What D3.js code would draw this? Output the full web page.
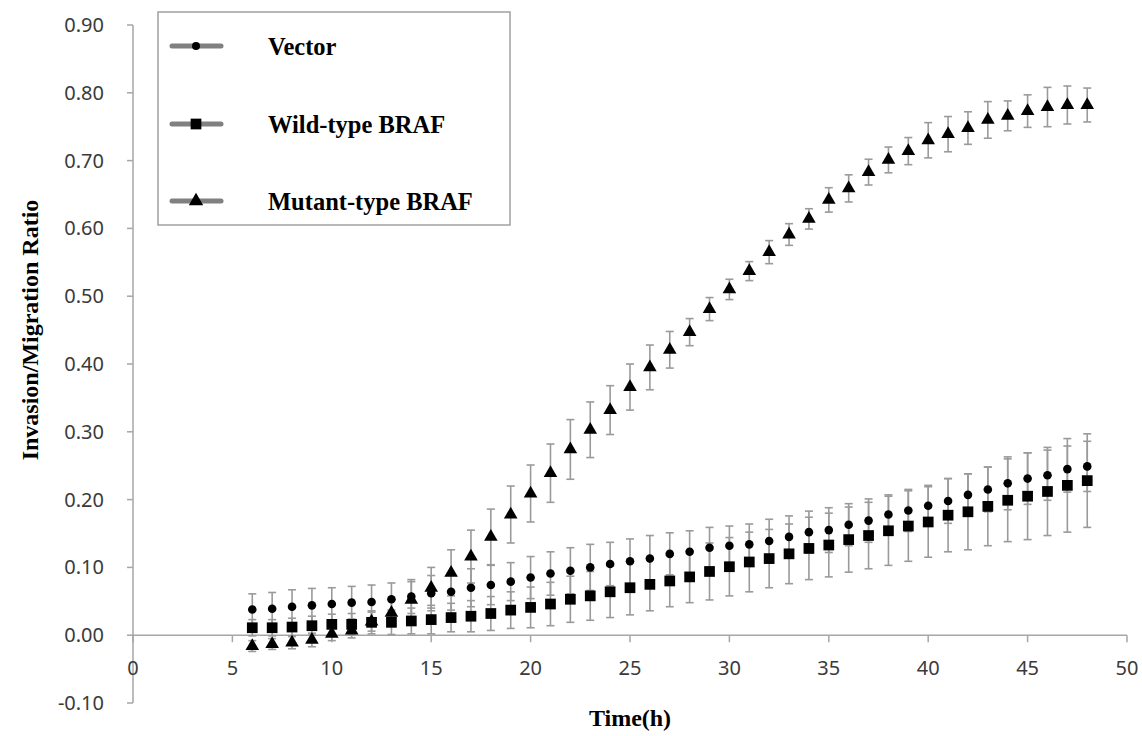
<!DOCTYPE html>
<html>
<head>
<meta charset="utf-8">
<script src="https://cdn.jsdelivr.net/npm/d3@7"></script>
<style>
  body { margin: 0; background: #fff; }
  .axis-line { stroke: #a6a6a6; stroke-width: 1.5; fill: none; }
  .tick-label { font-family: "Noto Sans", "Open Sans", sans-serif; font-size: 20px; fill: #3a3a3a; }
  .title { font-family: "Liberation Serif", "Times New Roman", serif; font-weight: bold; font-size: 24px; fill: #000; }
  .legend-text { font-family: "Liberation Serif", "Times New Roman", serif; font-weight: bold; font-size: 24.5px; fill: #000; }
</style>
</head>
<body>
<div class="chart"></div>
<script>
// data
const hours = [6,7,8,9,10,11,12,13,14,15,16,17,18,19,20,21,22,23,24,25,26,27,
  28,29,30,31,32,33,34,35,36,37,38,39,40,41,42,43,44,45,46,47,48];

const vector = [0.038,0.039,0.042,0.044,0.046,0.048,0.049,0.053,0.057,0.062,0.064,0.070,
  0.074,0.079,0.085,0.091,0.095,0.100,0.105,0.109,0.113,0.120,0.123,0.129,0.132,0.134,
  0.139,0.145,0.152,0.155,0.163,0.169,0.178,0.184,0.191,0.198,0.207,0.215,0.224,0.231,
  0.236,0.245,0.249];
const vectorErr = [0.023,0.024,0.025,0.025,0.024,0.024,0.025,0.024,0.025,0.026,0.027,0.028,
  0.029,0.028,0.031,0.032,0.034,0.034,0.032,0.033,0.034,0.031,0.031,0.030,0.029,0.030,
  0.032,0.031,0.031,0.033,0.031,0.032,0.029,0.031,0.030,0.033,0.031,0.033,0.039,0.038,
  0.037,0.034,0.037];

const wildType = [0.011,0.011,0.012,0.014,0.016,0.016,0.019,0.019,0.021,0.023,0.026,0.028,
  0.032,0.037,0.041,0.046,0.053,0.058,0.064,0.070,0.075,0.080,0.086,0.094,0.101,0.108,
  0.113,0.120,0.128,0.133,0.141,0.147,0.154,0.161,0.167,0.177,0.182,0.190,0.199,0.205,
  0.212,0.221,0.228];
const wildTypeErr = [0.012,0.012,0.013,0.014,0.015,0.016,0.017,0.018,0.019,0.021,0.021,0.023,
  0.025,0.027,0.030,0.032,0.034,0.036,0.038,0.040,0.039,0.038,0.038,0.042,0.043,0.044,
  0.043,0.044,0.046,0.047,0.048,0.049,0.051,0.052,0.052,0.054,0.056,0.058,0.061,0.064,
  0.065,0.069,0.069];

const mutant = [-0.016,-0.013,-0.011,-0.007,0.002,0.007,0.020,0.033,0.052,0.070,0.092,0.116,
  0.145,0.178,0.209,0.239,0.274,0.303,0.332,0.366,0.395,0.421,0.447,0.481,0.510,0.537,
  0.565,0.591,0.614,0.642,0.659,0.683,0.701,0.714,0.730,0.739,0.748,0.760,0.766,0.773,
  0.779,0.782,0.782];
const mutantErr = [0.008,0.008,0.009,0.010,0.010,0.011,0.014,0.020,0.027,0.030,0.034,0.039,
  0.041,0.042,0.042,0.043,0.044,0.041,0.036,0.034,0.033,0.027,0.020,0.017,0.015,0.014,
  0.017,0.016,0.015,0.018,0.020,0.019,0.019,0.020,0.026,0.026,0.024,0.027,0.022,0.024,
  0.029,0.028,0.025];

const seriesNames = ["Vector", "Wild-type BRAF", "Mutant-type BRAF"];
const xTicks = [0,5,10,15,20,25,30,35,40,45,50];
const yTicks = [-0.1,0,0.1,0.2,0.3,0.4,0.5,0.6,0.7,0.8,0.9];

const series = [
  { name: seriesNames[0], values: vector, err: vectorErr, shape: d3.symbolCircle, size: 58, legendSize: 50 },
  { name: seriesNames[1], values: wildType, err: wildTypeErr, shape: d3.symbolSquare, size: 115, legendSize: 115 },
  { name: seriesNames[2], values: mutant, err: mutantErr, shape: d3.symbolTriangle, size: 80, legendSize: 90 }
];

const width = 1142, height = 736;

const svg = d3.select(".chart")
  .append("svg")
  .attr("width", width)
  .attr("height", height);

const xScale = d3.scaleLinear().domain([0, 50]).range([133, 1127]);
const yScale = d3.scaleLinear().domain([-0.1, 0.9]).range([703, 25]);

// excel style labels, plain hyphen for negatives
const fmt = d => d3.format(".2f")(d).replace("\u2212", "-");

// y axis
svg.append("line").attr("class", "axis-line")
  .attr("x1", xScale(0)).attr("x2", xScale(0))
  .attr("y1", yScale(0.9)).attr("y2", yScale(-0.1));
svg.selectAll(".ytick").data(yTicks).enter().append("line")
  .attr("class", "axis-line")
  .attr("x1", xScale(0) - 6).attr("x2", xScale(0))
  .attr("y1", d => yScale(d)).attr("y2", d => yScale(d));
svg.selectAll(".ylabel").data(yTicks).enter().append("text")
  .attr("class", "tick-label")
  .attr("x", 104)
  .attr("y", d => yScale(d))
  .attr("dy", "0.35em")
  .attr("text-anchor", "end")
  .text(fmt);

// x axis at zero
svg.append("line").attr("class", "axis-line")
  .attr("x1", xScale(0)).attr("x2", xScale(50))
  .attr("y1", yScale(0)).attr("y2", yScale(0));
svg.selectAll(".xtick").data(xTicks).enter().append("line")
  .attr("class", "axis-line")
  .attr("x1", d => xScale(d)).attr("x2", d => xScale(d))
  .attr("y1", yScale(0)).attr("y2", yScale(0) + 7);
svg.selectAll(".xlabel").data(xTicks).enter().append("text")
  .attr("class", "tick-label")
  .attr("x", d => xScale(d))
  .attr("y", yScale(0) + 33)
  .attr("dy", "0.35em")
  .attr("text-anchor", "middle")
  .text(d => d);

// axis titles
svg.append("text").attr("class", "title")
  .attr("transform", "translate(38," + 330 + ") rotate(-90)")
  .attr("text-anchor", "middle")
  .text("Invasion/Migration Ratio");
svg.append("text").attr("class", "title")
  .attr("x", 630).attr("y", 726)
  .attr("text-anchor", "middle")
  .text("Time(h)");

// error bars
const cap = 4;
series.forEach(s => {
  const g = svg.append("g").attr("class", "errbars")
    .attr("stroke", "#9a9a9a").attr("stroke-width", 1.6);
  hours.forEach((h, i) => {
    const x = xScale(h);
    const y1 = yScale(s.values[i] + s.err[i]);
    const y0 = yScale(s.values[i] - s.err[i]);
    g.append("line").attr("x1", x).attr("x2", x).attr("y1", y1).attr("y2", y0);
    g.append("line").attr("x1", x - cap).attr("x2", x + cap).attr("y1", y1).attr("y2", y1);
    g.append("line").attr("x1", x - cap).attr("x2", x + cap).attr("y1", y0).attr("y2", y0);
  });
});

// markers
series.forEach(s => {
  svg.append("g").selectAll("path")
    .data(hours.map((h, i) => ({ h, v: s.values[i] })))
    .enter().append("path")
    .attr("d", d3.symbol().type(s.shape).size(s.size))
    .attr("transform", d => `translate(${xScale(d.h)},${yScale(d.v)})`)
    .attr("fill", "#000");
});

// legend
const legend = svg.append("g");
legend.append("rect")
  .attr("x", 158).attr("y", 12).attr("width", 352).attr("height", 213)
  .attr("fill", "#fff").attr("stroke", "#a0a0a0").attr("stroke-width", 1.5);
const legendY = [46, 124, 201];
series.forEach((s, i) => {
  legend.append("line")
    .attr("x1", 172).attr("x2", 221)
    .attr("y1", legendY[i]).attr("y2", legendY[i])
    .attr("stroke", "#808080").attr("stroke-width", 5).attr("stroke-linecap", "round");
  legend.append("path")
    .attr("d", d3.symbol().type(s.shape).size(s.legendSize))
    .attr("transform", `translate(196,${legendY[i]})`)
    .attr("fill", "#000");
  legend.append("text").attr("class", "legend-text")
    .attr("x", 268).attr("y", legendY[i]).attr("dy", "0.35em")
    .text(s.name);
});
</script>
</body>
</html>
